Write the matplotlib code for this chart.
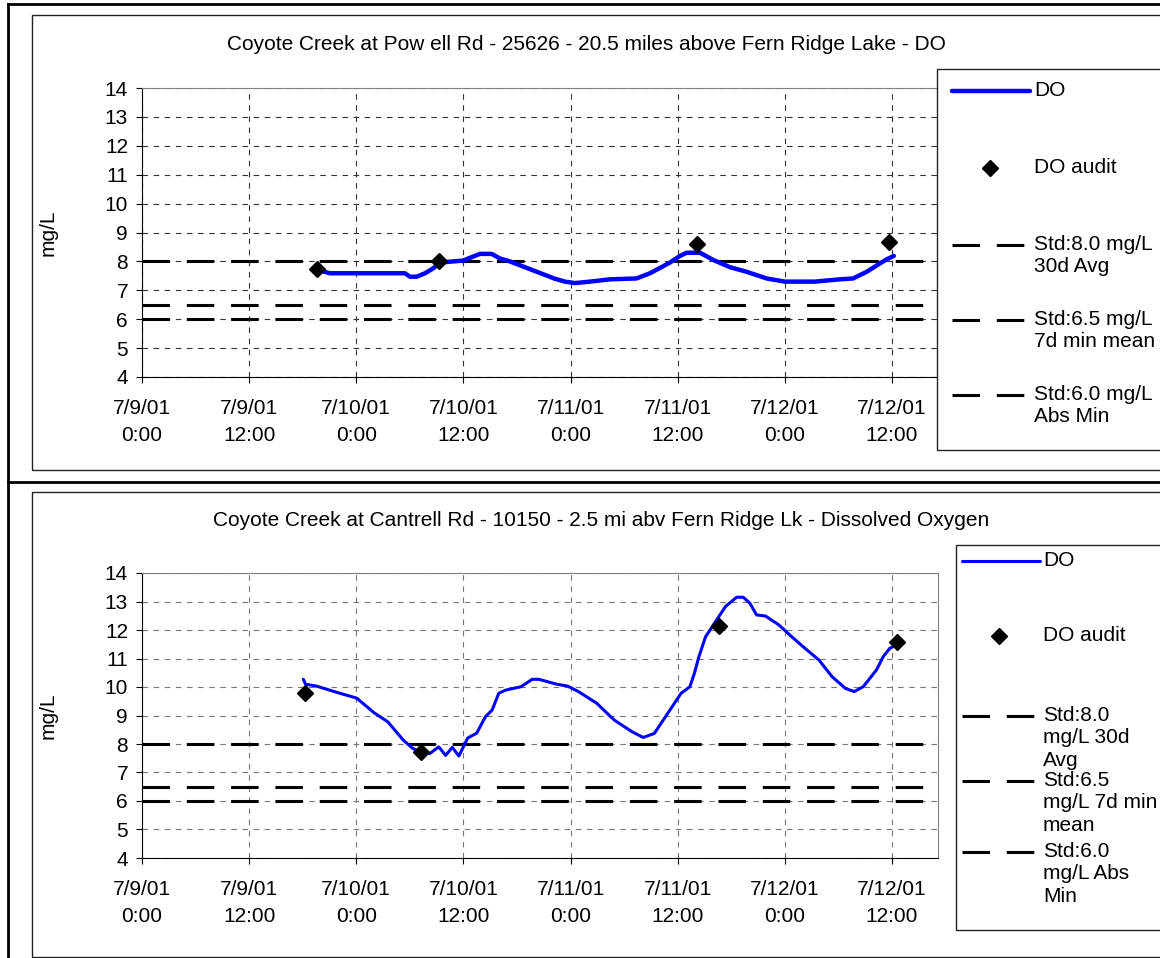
import matplotlib
matplotlib.use('Agg')
import matplotlib.pyplot as plt
from matplotlib.lines import Line2D
from matplotlib.patches import Rectangle

plt.rcParams['font.family'] = ['Liberation Sans', 'DejaVu Sans']
FS = 15

# --- data (x = days after 7/9/01 0:00, y = mg/L) ---
powell_days = [0.823, 0.877, 1.227, 1.251, 1.282, 1.321, 1.359, 1.391, 1.453, 1.499,
               1.577, 1.632, 1.671, 1.717, 1.787, 1.857, 1.927, 1.974, 2.021, 2.091,
               2.184, 2.308, 2.371, 2.464, 2.511, 2.542, 2.604, 2.666, 2.744, 2.822,
               2.915, 3.000, 3.140, 3.257, 3.319, 3.382, 3.444, 3.475, 3.509]
powell_do = [7.70, 7.59, 7.59, 7.47, 7.47, 7.59, 7.76, 7.96, 8.00, 8.03,
             8.26, 8.26, 8.10, 8.00, 7.80, 7.60, 7.40, 7.30, 7.25, 7.30,
             7.38, 7.41, 7.59, 7.96, 8.19, 8.30, 8.30, 8.05, 7.80, 7.64,
             7.41, 7.30, 7.30, 7.38, 7.41, 7.64, 7.93, 8.07, 8.19]
powell_audit_days = [0.818, 1.387, 2.591, 3.487]
powell_audit_do = [7.74, 8.03, 8.60, 8.68]

cantrell_days = [0.753, 0.763, 0.815, 0.919, 1.002, 1.084, 1.147, 1.219, 1.261, 1.302,
                 1.344, 1.385, 1.417, 1.448, 1.479, 1.520, 1.562, 1.603, 1.634, 1.665,
                 1.697, 1.769, 1.821, 1.852, 1.935, 1.987, 2.039, 2.122, 2.204, 2.287,
                 2.339, 2.391, 2.454, 2.516, 2.557, 2.578, 2.599, 2.630, 2.671, 2.723,
                 2.775, 2.806, 2.837, 2.868, 2.910, 2.972, 3.024, 3.086, 3.159, 3.221,
                 3.283, 3.324, 3.366, 3.428, 3.459, 3.490, 3.522]
cantrell_do = [10.27, 10.10, 10.03, 9.79, 9.61, 9.09, 8.78, 8.14, 7.86, 7.70,
               7.67, 7.90, 7.60, 7.88, 7.58, 8.21, 8.38, 8.96, 9.19, 9.78,
               9.89, 10.01, 10.27, 10.27, 10.10, 10.03, 9.83, 9.43, 8.84, 8.43,
               8.23, 8.37, 9.08, 9.78, 10.01, 10.48, 11.06, 11.76, 12.23, 12.82,
               13.15, 13.15, 12.94, 12.53, 12.49, 12.18, 11.82, 11.41, 10.95, 10.36,
               9.95, 9.84, 10.01, 10.60, 11.06, 11.36, 11.47]
cantrell_audit_days = [0.763, 1.302, 2.692, 3.522]
cantrell_audit_do = [9.78, 7.73, 12.15, 11.59]

std_levels = [8.0, 6.5, 6.0]
tick_days = [0, 0.5, 1, 1.5, 2, 2.5, 3, 3.5]
tick_labels = ['7/9/01\n0:00', '7/9/01\n12:00', '7/10/01\n0:00', '7/10/01\n12:00',
               '7/11/01\n0:00', '7/11/01\n12:00', '7/12/01\n0:00', '7/12/01\n12:00']
titles = ['Coyote Creek at Pow ell Rd - 25626 - 20.5 miles above Fern Ridge Lake - DO',
          'Coyote Creek at Cantrell Rd - 10150 - 2.5 mi abv Fern Ridge Lk - Dissolved Oxygen']
legend_top = ['DO', 'DO audit', 'Std:8.0 mg/L\n30d Avg', 'Std:6.5 mg/L\n7d min mean',
              'Std:6.0 mg/L\nAbs Min']
legend_bot = ['DO', 'DO audit', 'Std:8.0\nmg/L 30d\nAvg', 'Std:6.5\nmg/L 7d min\nmean',
              'Std:6.0\nmg/L Abs\nMin']

W, H = 1160, 958
AX_L, AX_R = 142, 938


def fx(p):
    return p / W


def fy(p):
    return 1 - p / H


fig = plt.figure(figsize=(W / 100, H / 100), dpi=100)

# page frame and chart boxes
for xs, ys in [([8, 8], [4, 958]), ([8, 1160], [4, 4]), ([8, 1160], [482, 482])]:
    fig.add_artist(Line2D([fx(x) for x in xs], [fy(y) for y in ys], color='k', lw=2.0))
for top, bot in [(15, 470), (492, 957)]:
    fig.add_artist(Rectangle((fx(32), fy(bot)), fx(1175) - fx(32), fy(top) - fy(bot),
                             fill=False, ec='#222222', lw=1.0, transform=fig.transFigure))


def panel(top, bot, days, do, adays, ado, do_lw, title, title_xy, grid_c):
    ax = fig.add_axes([fx(AX_L), fy(bot), fx(AX_R) - fx(AX_L), fy(top) - fy(bot)])
    ax.plot(days, do, color='#0000FF', lw=do_lw, solid_capstyle='round', zorder=4)
    ax.plot(adays, ado, ls='none', marker='D', ms=8, color='k', zorder=5)
    for lv in std_levels:
        ax.axhline(lv, color='k', lw=2.2, dashes=(9, 5.5), zorder=3)
    ax.set_xlim(0, 3.715)
    ax.set_ylim(4, 14)
    ax.set_yticks(range(4, 15))
    ax.set_xticks(tick_days)
    ax.set_xticklabels(tick_labels, linespacing=1.5)
    ax.grid(True, color=grid_c, lw=0.8, dashes=(5, 5))
    ax.tick_params(direction='out', length=4, width=0.8, labelsize=FS, pad=6)
    ax.tick_params(axis='x', pad=12)
    for s in ['top', 'right']:
        ax.spines[s].set_color('#808080')
    for s in ['left', 'bottom']:
        ax.spines[s].set_color('k')
    ax.set_ylabel('mg/L', fontsize=FS)
    ax.yaxis.set_label_coords((58 - AX_L) / (AX_R - AX_L), 0.5)
    fig.text(fx(title_xy[0]), fy(title_xy[1]), title, ha='center', va='center', fontsize=FS)
    return ax


ax1 = panel(88, 377, powell_days, powell_do, powell_audit_days, powell_audit_do, 3.2,
            titles[0], (586, 44), '#333333')
ax2 = panel(573, 858, cantrell_days, cantrell_do, cantrell_audit_days, cantrell_audit_do, 2.2,
            titles[1], (601, 521), '#777777')


def legend(box, x_line, x_mark, x_text, rows, do_lw):
    l, t, b = box
    fig.add_artist(Rectangle((fx(l), fy(b)), fx(1175) - fx(l), fy(t) - fy(b),
                             fill=True, fc='white', ec='#222222', lw=1.0,
                             transform=fig.transFigure, zorder=6))
    kinds = ['line', 'mark', 'dash', 'dash', 'dash']
    for kind, (y, text) in zip(kinds, rows):
        if kind == 'line':
            fig.add_artist(Line2D([fx(x_line[0]), fx(x_line[1])], [fy(y)] * 2,
                                  color='#0000FF', lw=do_lw, solid_capstyle='round', zorder=7))
        elif kind == 'mark':
            fig.add_artist(Line2D([fx(x_mark)], [fy(y)], ls='none', marker='D', ms=8,
                                  color='k', zorder=7))
        else:
            fig.add_artist(Line2D([fx(x_line[0]), fx(x_line[1])], [fy(y)] * 2,
                                  color='k', lw=2.2, dashes=(9, 5.5), zorder=7))
        fig.text(fx(x_text), fy(y - 10), text, ha='left', va='top', fontsize=FS,
                 linespacing=1.22, zorder=8)


legend((937, 69, 450), (952, 1030), 990, 1034,
       list(zip([91, 168, 245, 320, 395], legend_top)), 3.2)
legend((956, 545, 930), (962, 1040), 999, 1043,
       list(zip([561, 636, 716, 781, 852], legend_bot)), 2.2)

fig.savefig('out.png', dpi=100)
